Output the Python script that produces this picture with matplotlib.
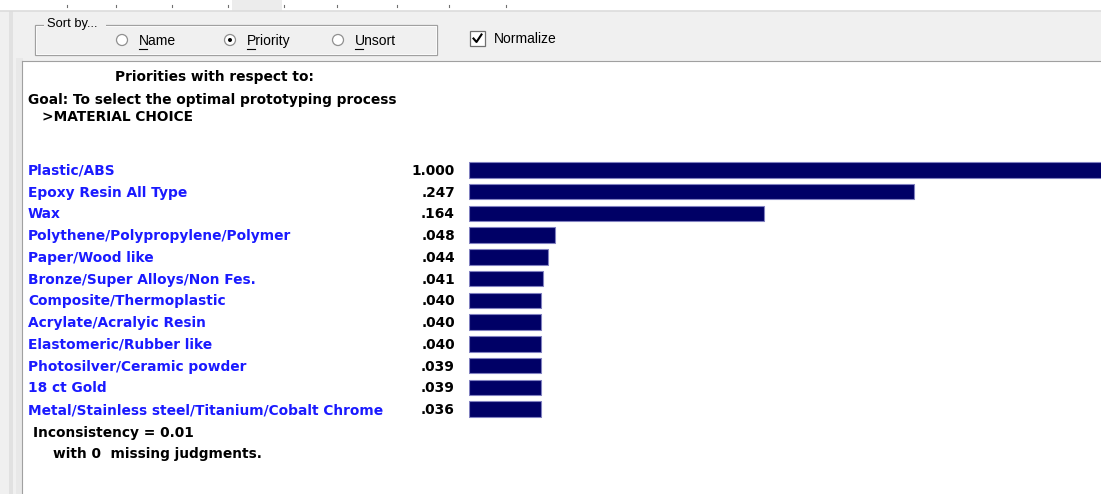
import matplotlib
matplotlib.use("Agg")
import matplotlib.pyplot as plt
from matplotlib.patches import Rectangle, Circle
from matplotlib.transforms import blended_transform_factory, offset_copy

# ---------------- data ----------------
categories = [
    "Plastic/ABS",
    "Epoxy Resin All Type",
    "Wax",
    "Polythene/Polypropylene/Polymer",
    "Paper/Wood like",
    "Bronze/Super Alloys/Non Fes.",
    "Composite/Thermoplastic",
    "Acrylate/Acralyic Resin",
    "Elastomeric/Rubber like",
    "Photosilver/Ceramic powder",
    "18 ct Gold",
    "Metal/Stainless steel/Titanium/Cobalt Chrome",
]
priorities = [1.000, 0.247, 0.164, 0.048, 0.044, 0.041, 0.040, 0.040, 0.040, 0.039, 0.039, 0.036]
value_labels = ["1.000", ".247", ".164", ".048", ".044", ".041", ".040", ".040", ".040", ".039", ".039", ".036"]
header_lines = ["Priorities with respect to:",
                "Goal: To select the optimal prototyping process",
                ">MATERIAL CHOICE"]
footer_lines = ["Inconsistency = 0.01", "with 0  missing judgments."]
sort_options = ["Name", "Priority", "Unsort"]
sort_selected = "Priority"

# ---------------- layout ----------------
W, H = 1101, 494
fig = plt.figure(figsize=(W / 100, H / 100), dpi=100)
fig.patch.set_facecolor("#f0f0f0")

ax = fig.add_axes([0, 0, 1, 1])
ax.set_xlim(0, W)
ax.set_ylim(H, 0)
ax.axis("off")

FONT = "DejaVu Sans"
UIFONT = "Liberation Sans"
FS = 9.9

# top white strip with tiny marks (remnant of previous row)
ax.add_patch(Rectangle((0, 0), W, 11, facecolor="white", edgecolor="none"))
ax.add_patch(Rectangle((232, 0), 50, 11, facecolor="#ececec", edgecolor="none"))
for mx in [67, 116, 172, 228, 284, 337, 397, 449, 506]:
    ax.plot([mx, mx], [5, 7], color="#707070", lw=0.8)
ax.plot([0, W], [11, 11], color="#dcdcdc", lw=1.2)

# left border strips
ax.add_patch(Rectangle((9, 11), 4, H, facecolor="#e1e1e1", edgecolor="none"))
ax.add_patch(Rectangle((16, 58), 7, H, facecolor="#e8e8e8", edgecolor="none"))

# white panel
ax.add_patch(Rectangle((23, 62), W - 23, H - 62, facecolor="white", edgecolor="none"))
ax.plot([22, 22], [61, H], color="#a0a0a0", lw=0.8)
ax.plot([22, W], [61, 61], color="#a0a0a0", lw=0.8)

# "Sort by..." group box
ax.add_patch(Rectangle((35, 25), 402, 30, facecolor="none", edgecolor="#a0a0a0", lw=0.9))
ax.add_patch(Rectangle((36, 26), 400, 28, facecolor="none", edgecolor="white", lw=0.6))
ax.add_patch(Rectangle((44, 16), 62, 14, facecolor="#f0f0f0", edgecolor="none"))
ax.text(47, 24, "Sort by...", fontsize=9.3, family=UIFONT, va="center", ha="left", color="black")
for x0, lab in zip([122, 230, 338], sort_options):
    ax.add_patch(Circle((x0, 40), 5.5, facecolor="white", edgecolor="#909090", lw=0.9))
    if lab == sort_selected:
        ax.add_patch(Circle((x0, 40), 2.0, facecolor="black", edgecolor="none"))
    ax.text(x0 + 17, 41, lab, fontsize=10, family=UIFONT, va="center", ha="left", color="black")
    ax.plot([x0 + 17, x0 + 25], [49, 49], color="black", lw=0.8)

# Normalize checkbox
ax.add_patch(Rectangle((470, 31), 15, 15, facecolor="white", edgecolor="#707070", lw=0.9))
ax.plot([473.5, 476.5, 481.5], [38.5, 42, 34.5], color="black", lw=1.5)
ax.text(494, 39, "Normalize", fontsize=10, family=UIFONT, va="center", ha="left", color="black")

# header texts
ax.text(115, 77, header_lines[0], fontsize=FS, family=FONT, weight="bold", va="center", ha="left")
ax.text(28, 100, header_lines[1], fontsize=FS, family=FONT, weight="bold", va="center", ha="left")
ax.text(42, 117, header_lines[2], fontsize=FS, family=FONT, weight="bold", va="center", ha="left")

# ---------------- bars ----------------
bar_left, bar_right = 469, W
top_px, bot_px = 159, 420
PX_PER_UNIT = 1800.0
MIN_BAR = 0.04  # minimum drawn bar width (style)
bax = fig.add_axes([bar_left / W, 1 - bot_px / H, (bar_right - bar_left) / W, (bot_px - top_px) / H])
bax.set_xlim(0, (bar_right - bar_left) / PX_PER_UNIT)
n = len(categories)
bax.set_ylim(n - 0.5, -0.5)
bax.axis("off")
bax.patch.set_alpha(0)
ypos = list(range(n))
widths = [max(v, MIN_BAR) for v in priorities]
bax.barh(ypos, widths, height=0.72, color="#000066", edgecolor="#8080c0", linewidth=0.8, align="center")

tr = blended_transform_factory(ax.transData, bax.transData)
tr = offset_copy(tr, fig=fig, x=0, y=-0.8, units="points")
for y, cat, vl in zip(ypos, categories, value_labels):
    ax.text(28, y, cat, transform=tr, fontsize=FS, family=FONT, weight="bold",
            color="#1a1aff", va="center", ha="left")
    ax.text(455, y, vl, transform=tr, fontsize=FS, family=FONT, weight="bold",
            color="black", va="center", ha="right")

# footer
ax.text(33, 433, footer_lines[0], fontsize=FS, family=FONT, weight="bold", va="center", ha="left")
ax.text(53, 454, footer_lines[1], fontsize=FS, family=FONT, weight="bold", va="center", ha="left")

fig.savefig("out.png", dpi=100, facecolor=fig.get_facecolor())
